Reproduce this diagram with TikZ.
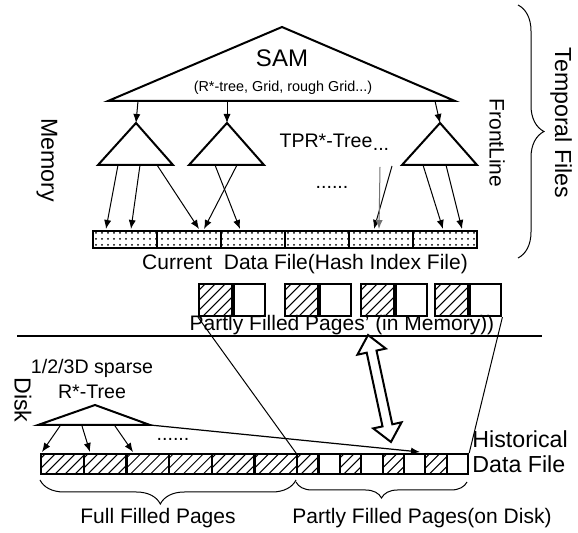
\documentclass[tikz,border=0pt]{standalone}
\usepackage{fontspec}
\setmainfont{Liberation Sans}
\usetikzlibrary{arrows.meta,patterns.meta,decorations.pathreplacing,calc}

\newcommand\fsSam{\fontsize{12}{14}\selectfont}
\newcommand\fsTiny{\fontsize{7.2}{8.5}\selectfont}
\newcommand\fsLbl{\fontsize{10.5}{12}\selectfont}
\newcommand\fsSide{\fontsize{11.6}{13}\selectfont}
\newcommand\fsTree{\fontsize{9.8}{11}\selectfont}

\tikzset{
  tri/.style={line width=1pt, line join=miter},
  ptr/.style={-{Latex[length=4.5pt,width=3.6pt]}, line width=0.5pt},
  hatch/.style={path picture={
    \foreach \t in {-18,-13,...,24}
      \draw[line width=0.5pt] ($(path picture bounding box.south west)+(\t pt,0pt)$) -- ++(20pt,20pt);}},
  curcell/.style={draw, line width=1.1pt, anchor=north west, inner sep=0pt,
    minimum width=32pt, minimum height=8.5pt,
    pattern={Dots[distance=3pt,radius=0.5pt]}},
  memhatch/.style={draw, line width=1.1pt, anchor=north west, inner sep=0pt,
    minimum width=16.5pt, minimum height=16pt, hatch},
  memempty/.style={draw, line width=1.1pt, anchor=west, inner sep=0pt,
    minimum width=15.5pt, minimum height=16pt},
  fullcell/.style={draw, line width=1.1pt, anchor=north west, inner sep=0pt,
    minimum width=21.33pt, minimum height=10pt, hatch},
  halfhatch/.style={fullcell, minimum width=10.69pt},
  halfempty/.style={draw, line width=1.1pt, anchor=north west, inner sep=0pt,
    minimum width=10.69pt, minimum height=10pt},
  brc/.style={decorate, line width=0.5pt},
  lbl/.style={font=\fsLbl, inner sep=0pt},
}

\begin{document}
\begin{tikzpicture}[x=0.5pt,y=-0.5pt]
\useasboundingbox (0,0) rectangle (578,533);

% SAM on top
\coordinate (samL) at (108,101);
\coordinate (samT) at (282,27);
\coordinate (samR) at (455,101);
\draw[tri] (samL) -- (samT) -- (samR) -- cycle;
\node[font=\fsSam] (sam) at (282,58) {SAM};
\node[font=\fsTiny] (samsub) at (283,88) {(R*-tree, Grid, rough Grid...)};

% TPR* trees
\foreach \n/\x in {t1/136,t2/227,t3/440}{
  \coordinate (\n T) at (\x,123);
  \coordinate (\n L) at (\x-38,165);
  \coordinate (\n R) at (\x+37,165);
  \draw[tri] (\n T) -- (\n L) -- (\n R) -- cycle;
}
\coordinate (s1) at (138,101);
\coordinate (s2) at (227,101);
\coordinate (s3) at (435,101);
\draw[ptr] (s1) -- (t1T);
\draw[ptr] (s2) -- (t2T);
\draw[ptr] (s3) -- (t3T);
\node[font=\fsTree] (tpr) at (326,141) {TPR*-Tree};
\node[font=\fsTree] (tprdots) at (381,149) {...};
\node[font=\fsTree] (middots) at (332,187) {......};

% current data file
\foreach \i in {1,...,6}
  \node[curcell] (cur\i) at ({92+64*(\i-1)},230) {};
\node[lbl] (curlbl) at (305,264) {Current\ \ Data File(Hash Index File)};

% pointers into the data file
\foreach \a/\ya/\b [count=\k] in {118/165/106,140/165/131,157/165/199,215/165/240,237/165/204,380/167/379,392/166/374,423/165/443,446/165/462}{
  \coordinate (a\k) at (\a,\ya);
  \coordinate (b\k) at (\b,229);
}
\foreach \k in {1,...,5,7,8,9}
  \draw[ptr] (a\k) -- (b\k);
\draw[ptr, black!55] (a6) -- (b6);

\node[font=\fsSide, rotate=-90] (mem) at (47,160) {Memory};
\node[font=\fsLbl, rotate=-90] (front) at (497,143) {FrontLine};
\coordinate (brTop) at (518,5);
\coordinate (brBot) at (518,258);
\draw[brc, decoration={brace, amplitude=13pt}] (brTop) -- (brBot);
\node[font=\fsSide, rotate=-90] (temp) at (561,123) {Temporal Files};

% partly filled pages in memory
\foreach \x [count=\i] in {198,284,360,434}{
  \node[memhatch] (mh\i) at (\x,283) {};
  \node[memempty] (me\i) at (mh\i.east) {};
}
\node[lbl] (memlbl) at (342,325) {Partly Filled Pages' (in Memory))};

% memory / disk border
\coordinate (divL) at (17,336);
\coordinate (divR) at (542,336);
\draw[line width=1pt] (divL) -- (divR);
\node[font=\fsSide, rotate=-90] (disk) at (23,400) {Disk};

% historical data file
\foreach \i in {1,...,6}
  \node[fullcell] (f\i) at ({40+42.67*(\i-1)},453) {};
\foreach \i in {1,...,4}{
  \node[halfhatch] (ph\i) at ({296+42.75*(\i-1)},453) {};
  \node[halfempty] (pe\i) at ({296+42.75*(\i-1)+21.375},453) {};
}
\node[font=\fsSide, anchor=west, inner sep=0pt] (hist1) at (472,439) {Historical};
\node[font=\fsSide, anchor=west, inner sep=0pt] (hist2) at (472,464) {Data File};

% sparse R*-tree
\node[font=\fsTree] (sp1) at (92,368) {1/2/3D sparse};
\node[font=\fsTree] (sp2) at (92,392) {R*-Tree};
\coordinate (spL) at (38,425);
\coordinate (spT) at (95,405);
\coordinate (spR) at (150,425);
\draw[tri] (spL) -- (spT) -- (spR) -- cycle;
\foreach \a/\b [count=\k] in {60/42,82/90,115/133}{
  \coordinate (c\k) at (\a,426);
  \coordinate (d\k) at (\b,452);
  \draw[ptr] (c\k) -- (d\k);
}
\node[font=\fsTree] (spdots) at (173,439) {......};
\coordinate (spEnd) at (420,452);
\draw[ptr, line width=0.6pt] (spR) -- (spEnd);

% pages go to disk
\draw[line width=0.5pt] (mh1.south west) -- (ph1.north west);
\draw[line width=0.5pt] (me4.south east) -- (pe4.north east);
\begin{scope}[shift={(379.5,388.5)}, rotate=-77.9]
  \draw[line width=1pt, fill=white] (-54.7,0) -- (-37.7,14.5) -- (-37.7,5) -- (37.7,5)
    -- (37.7,14.5) -- (54.7,0) -- (37.7,-14.5) -- (37.7,-5) -- (-37.7,-5)
    -- (-37.7,-14.5) -- cycle;
\end{scope}

% braces below
\coordinate (fbL) at (40,480);
\coordinate (fbR) at (296,480);
\coordinate (pbR) at (467,482);
\coordinate (pbL) at (296,482);
\draw[brc, decoration={brace, amplitude=12pt, aspect=0.53}] (fbR) -- (fbL);
\draw[brc, decoration={brace, amplitude=8pt}] (pbR) -- (pbL);
\node[lbl] (fulllbl) at (158,518) {Full Filled Pages};
\node[lbl] (partlbl) at (422,518) {Partly Filled Pages(on Disk)};
\end{tikzpicture}
\end{document}
